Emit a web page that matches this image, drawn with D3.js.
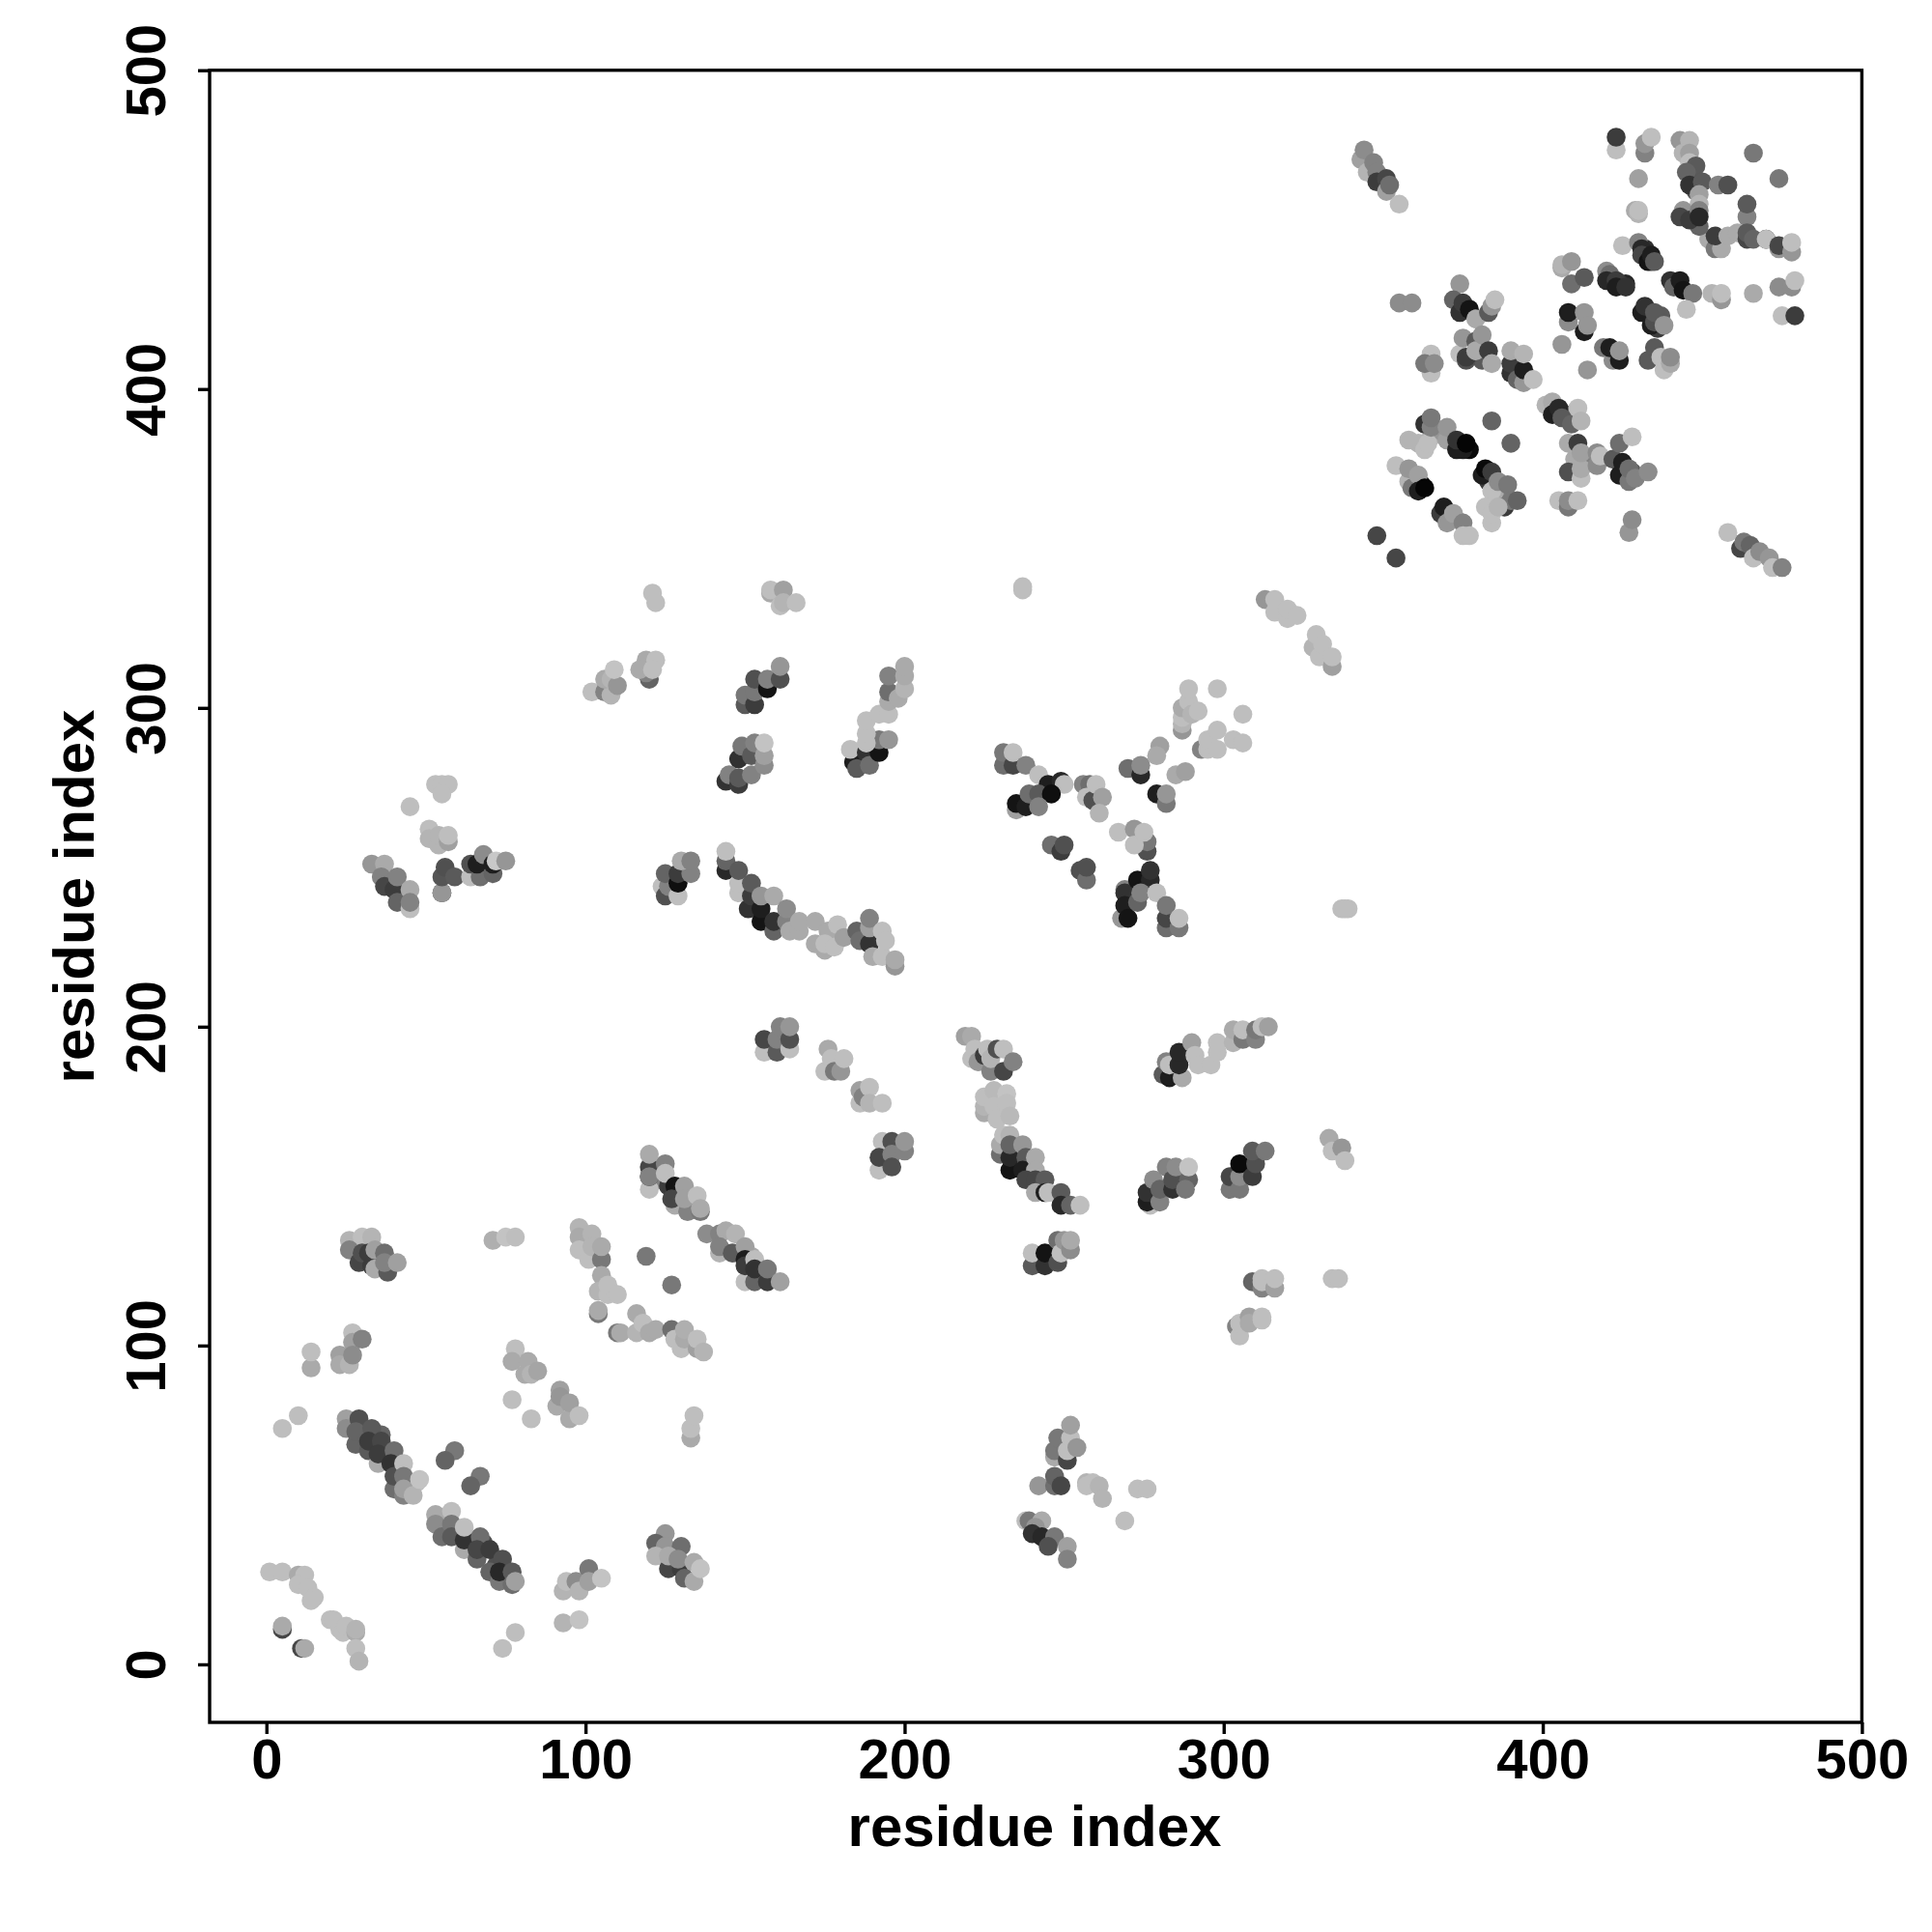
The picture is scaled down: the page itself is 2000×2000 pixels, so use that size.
<!DOCTYPE html>
<html><head><meta charset="utf-8">
<script src="https://cdn.jsdelivr.net/npm/d3@7"></script>
<style>html,body{margin:0;padding:0;background:#fff}</style></head>
<body><svg id="c" width="2000" height="2000"></svg>
<script>
// each contact: [residue x, residue y, grey level]
const denseContacts = [
[36,72,100],[31,72,90],[47,57,190],[45,55,170],[68,38,80],[72,31,80],[75,28,110],[123,152,130],[130,147,70],[126,150,60],[133,145,170],[148,129,130],[155,122,100],[152,128,170],[138,135,140],
[365,385,170],[368,387,150],[361,383,180],[377,381,10],[375,381,30],[362,370,10],[360,372,150],[383,371,60],[387,366,110],[386,368,170],[370,360,140],[373,359,170],[381,409,90],
[426,433,40],[424,433,60],[434,440,60],[432,444,50],[443,432,30],[437,423,90],[436,419,60],[427,373,60],[428,374,90],[395,404,130],[392,408,110],[404,393,60],[407,392,100],[410,378,170],[415,378,130],[452,447,170],[449,451,100],[448,462,80],[447,467,70],
[237,337,190],[337,237,190],[339,237,190]
];
const lowerLeft = [
[1,29,190],[5,29,190],[10,28,170],[12,28,190],[10,25,190],[13,24,190],[15,21,190],[14,20,190],[5,11,70],[5,12,170],[11,5,70],[12,5,170],
[20,14,190],[21,14,190],[23,11,190],[24,10,190],[25,12,190],[28,10,170],[28,11,180],[28,5,190],[29,1,180],
[26,133,180],[30,134,190],[33,134,180],[26,130,130],[29,126,70],[30,129,80],[32,129,60],[33,125,60],[34,130,160],[37,129,110],[34,124,170],[38,123,90],[37,126,130],[41,126,160],
[27,104,190],[27,101,160],[30,102,130],[23,97,160],[23,94,170],[26,94,180],[27,97,140],[14,93,170],[14,98,190],[10,78,190],[5,74,190],
[25,77,160],[25,74,140],[28,69,100],[29,77,80],[28,73,100],[33,74,90],[32,67,90],[32,70,60],[35,63,170],[36,70,70],[35,66,60],[40,67,110],[39,63,50],[40,55,110],[40,59,80],[43,63,190],[43,59,120],[43,53,130],[43,55,160],[46,53,180],[48,58,195],
[59,67,120],[56,64,100],[67,59,120],[64,56,100],
[53,47,170],[58,48,190],[53,44,140],[55,40,110],[58,44,120],[58,40,90],[62,36,170],[62,39,50],[62,43,190],[67,40,110],[66,33,100],[66,36,70],[70,36,60],[70,29,100],[74,33,80],[73,26,120],[73,29,40],[77,29,90],[77,25,110],[78,26,160],
[78,10,190],[74,5,190],[93,13,180],[98,14,195],[93,23,180],[94,26,190],[97,26,140],[98,23,180],[101,30,120],[101,26,160],[105,27,195],
[125,41,150],[122,38,100],[125,37,150],[122,34,180],[130,37,110],[126,30,70],[126,34,170],[130,30,60],[129,33,140],[131,27,100],[134,26,170],[134,32,170],[136,30,195],
[133,71,170],[133,74,190],[134,78,190],[78,99,190],[77,95,170],[82,95,170],[81,91,170],[83,91,180],[85,92,165],[77,83,190],[83,77,190],
[91,81,170],[92,86,160],[92,84,150],[95,77,170],[95,82,160],[98,78,190],[71,133,175],[75,134,195],[78,134,190],
[98,137,180],[98,134,170],[98,130,190],[101,127,190],[102,135,180],[102,131,180],[105,127,120],[105,131,170],[105,122,170],[104,110,120],[104,111,170],[104,117,180],[107,116,190],[107,119,190],[110,116,190],
[110,104,120],[111,104,170],[116,104,180],[116,110,170],[118,107,190],[120,104,170],[122,105,170],[127,105,110],[128,102,190],[130,99,190],[131,102,170],[131,105,175],[135,99,160],[135,102,190],[137,98,180],
[119,128,120],[127,119,120],
[120,149,190],[120,156,70],[120,153,50],[120,153,130],[120,160,170],[125,157,130],[125,154,190],[128,144,170],[128,150,20],[127,146,70],[132,142,130],[131,150,160],[131,146,160],[136,142,120],[135,147,190],[136,143,170],
[142,129,180],[142,135,130],[144,136,170],[142,131,130],[146,129,90],[147,135,180],[150,120,190],[150,131,160],[150,127,30],[150,125,60],[153,120,100],[153,127,190],[153,124,50],[157,120,60],[157,124,120],[161,120,160]
];
const lowerMiddle = [
[176,193,170],[175,186,190],[177,190,190],[178,186,120],[180,186,150],[181,190,190],
[186,176,190],[186,180,160],[187,178,130],[189,181,190],[189,176,180],[193,176,190],
[192,155,190],[193,164,190],[192,159,70],[196,164,80],[196,160,130],[196,156,80],[200,161,130],[200,164,150],
[219,197,160],[221,197,170],[221,190,190],[222,193,190],[223,189,150],[225,191,60],[226,193,190],[227,186,130],[227,190,180],[229,193,80],[231,193,190],[231,186,70],[234,189,130],
[225,173,170],[225,175,180],[225,178,190],[228,180,185],[228,175,190],[229,171,190],[232,179,195],[232,176,190],[233,172,185],[230,160,110],[230,163,170],[231,166,190],[233,166,180],
[233,155,20],[233,159,40],[233,163,100],[237,163,150],[238,159,90],[237,155,30],[241,159,170],[241,155,170],[238,152,70],[241,152,70],[244,152,90],[241,148,170],[244,148,30],[245,148,190],[249,148,90],[249,144,40],[252,144,100],[255,144,190],
[240,125,90],[240,129,190],[244,125,50],[244,129,20],[248,126,80],[248,133,110],[249,129,190],[250,133,150],[252,130,140],[252,133,170],
[277,144,190],[276,145,30],[276,148,50],[278,152,140],[280,145,130],[280,149,100],[282,156,130],[284,149,50],[284,152,80],[285,156,140],[289,152,100],[288,149,120],[289,156,195],
[302,149,120],[302,153,70],[305,149,120],[305,153,140],[305,157,10],[309,153,60],[310,157,80],[309,161,90],[313,161,120],
[333,165,170],[334,161,190],[337,162,150],[338,158,190],
[281,185,90],[283,184,30],[282,189,130],[283,188,190],[287,184,170],[286,188,40],[286,192,40],[290,195,160],[291,191,190],[292,188,190],[296,188,190],[298,192,190],[298,195,190],[303,195,180],[303,199,170],[306,196,120],[306,199,190],[310,196,130],[310,199,120],[312,200,190],[314,200,160],
[309,120,100],[312,118,130],[312,121,190],[312,120,190],[316,118,160],[316,121,190],[334,121,190],[336,121,190],
[304,106,130],[305,103,190],[305,107,190],[308,109,160],[308,107,170],[312,109,190],[312,108,190],
[247,65,170],[247,67,120],[248,71,120],[251,64,70],[251,67,190],[252,71,190],[252,75,160],[254,68,150],
[242,56,150],[247,56,110],[247,59,100],[249,56,70],[257,57,180],[259,57,190],[257,56,190],[261,56,180],[262,52,180],[273,55,190],[276,55,190],[269,45,190],
[238,45,190],[239,45,120],[243,45,170],[241,43,150],[240,41,50],[243,40,40],[247,40,120],[245,37,80],[251,37,160],[251,33,130]
];
const upperLeft = [
[33,251,150],[37,251,170],[36,247,130],[37,244,70],[40,243,60],[41,247,130],[41,239,100],[45,237,190],[45,243,170],[45,239,130],
[53,276,190],[55,276,190],[57,276,190],[55,273,190],[45,269,190],[51,262,190],[51,259,180],[54,257,180],[54,260,180],[57,258,160],[57,260,190],
[55,242,70],[55,242,150],[55,247,85],[56,250,80],[59,247,90],[64,247,190],[64,251,80],[67,247,110],[66,251,30],[68,254,140],[71,248,100],[71,251,30],[72,252,200],[75,252,150],
[102,305,190],[106,305,130],[108,304,180],[106,309,170],[108,309,180],[110,307,150],[109,312,195],
[120,309,100],[119,311,130],[119,315,170],[117,312,170],[122,315,190],[121,312,190],[121,336,190],[122,333,190],
[158,336,170],[158,337,190],[162,337,160],[161,332,190],[162,333,180],[166,333,190],
[150,301,90],[150,304,120],[153,301,60],[153,305,120],[153,309,80],[157,306,20],[157,309,130],[161,309,80],[161,313,150],
[144,277,50],[145,279,130],[148,276,60],[148,278,90],[148,284,50],[149,288,120],[152,279,130],[152,285,90],[153,289,130],[156,282,140],[156,285,160],[156,289,195],
[184,283,30],[185,281,90],[183,287,190],[188,286,50],[189,282,110],[192,286,20],[192,290,120],[195,290,150],[188,289,190],[188,292,190],[188,296,190],[192,298,190],[195,298,190],
[195,302,170],[195,305,110],[195,310,130],[198,303,170],[200,306,180],[200,310,170],[200,313,170],
[124,244,190],[125,241,80],[126,244,130],[125,248,100],[129,241,190],[129,245,15],[129,248,60],[133,248,130],[130,252,170],[133,252,130],
[144,249,40],[144,252,100],[144,255,190],[148,242,190],[148,245,190],[148,249,90],[151,237,50],[152,241,60],[152,245,90],[155,233,20],[155,237,30],[155,241,150],[159,230,100],[159,233,50],[159,241,170],[163,233,130],[163,237,140],
[164,230,170],[167,230,170],[167,233,170],[172,226,170],[172,233,170],[175,224,170],[176,230,170],[175,226,190],[178,225,190],[179,232,190],[181,228,160],
[185,230,100],[186,227,110],[189,226,50],[189,231,160],[189,234,130],[190,222,170],[193,222,190],[193,230,190],[194,227,190],[197,219,150],[197,221,170],
[156,192,190],[156,196,70],[160,192,90],[160,196,130],[161,200,130],[164,193,190],[164,196,80],[164,200,150]
];
const upperMiddle = [
[237,338,190],[313,334,150],[316,330,190],[316,334,190],[320,328,190],[320,331,190],[323,329,190],[328,319,180],[329,323,190],[330,316,190],[331,320,190],[334,313,160],[334,316,190],
[298,306,190],[306,298,190],[287,293,150],[287,295,180],[287,297,190],[287,300,170],[289,302,190],[289,306,190],[290,298,180],[292,299,190],
[293,287,130],[295,287,190],[295,290,190],[298,287,190],[298,293,190],[303,290,190],[306,289,190],[280,288,160],[279,285,170],
[270,281,110],[274,279,40],[274,282,140],[285,279,170],[288,280,160],[279,273,30],[282,270,120],[282,273,150],
[231,282,110],[231,286,120],[234,282,70],[234,286,190],[238,282,130],[242,279,190],[245,276,30],[249,277,40],[250,276,190],
[235,268,160],[235,270,20],[238,269,30],[239,273,110],[242,273,90],[246,273,15],[242,269,130],
[256,276,130],[258,276,110],[257,272,190],[259,271,80],[260,276,190],[262,272,160],[261,267,180],
[267,261,190],[272,262,150],[276,255,80],[276,258,120],[272,257,190],[275,261,190],
[246,257,110],[249,255,60],[250,257,80],[255,249,80],[257,246,110],[257,250,80],
[268,234,150],[269,243,130],[269,242,50],[269,238,30],[270,234,20],[273,246,20],[273,239,100],[277,246,40],[277,249,50],[274,242,130],[279,242,190],
[282,231,110],[282,234,70],[282,238,120],[286,231,120],[286,234,190],[338,237,190]
];
const upperRight = [
[343,472,160],[344,475,140],[345,468,180],[347,471,130],[348,468,130],[348,465,60],[351,466,70],[351,462,160],[352,464,110],[355,458,190],
[423,475,190],[423,479,60],[432,474,130],[432,477,150],[434,479,190],[430,466,160],
[443,478,150],[446,478,180],[444,474,180],[446,474,160],[446,471,190],[448,470,90],[445,468,100],[446,464,50],[450,465,90],[455,464,130],[458,464,80],[449,461,160],[449,458,180],
[466,474,120],[474,466,120],[464,454,130],[464,458,90],
[444,456,150],[443,454,70],[446,453,60],[449,456,130],[449,454,40],
[454,444,120],[456,444,170],[454,448,60],[458,448,170],[461,449,170],[464,447,70],[464,449,90],[466,447,100],[470,447,60],[470,447,190],[474,444,150],[474,445,70],[478,443,150],[478,446,190],
[429,456,170],[430,455,180],[430,456,190],[425,445,190],[430,446,130],[431,444,40],[431,442,70],[433,440,20],[434,442,30],[435,440,90],
[406,438,170],[406,439,180],[409,440,150],[409,433,110],[413,435,90],
[420,437,140],[421,436,110],[420,434,40],[423,434,60],[423,432,30],[426,432,50],
[440,434,50],[441,432,100],[443,434,30],[444,431,20],[447,430,120],
[453,430,180],[456,428,150],[456,430,190],[445,425,190],[466,430,170],[474,432,140],[478,432,140],[479,434,190],[475,423,190],[479,423,60],
[408,421,140],[408,424,30],[413,418,30],[413,424,150],[414,420,150],
[431,424,30],[432,426,50],[434,420,30],[435,421,80],[435,424,90],[438,420,150],
[406,414,150],[419,413,120],[422,409,140],[421,413,30],[424,409,30],[424,412,150],[414,406,150],
[433,409,90],[435,413,90],[437,410,190],[438,406,190],[440,408,170],[440,410,140],
[374,433,150],[355,427,140],[359,427,140],
[372,428,100],[374,424,50],[375,427,60],[377,425,20],[379,422,170],[383,424,90],[384,426,150],[385,428,190],
[374,411,190],[375,416,150],[376,409,80],[376,410,60],[379,415,90],[379,412,170],[381,417,150],[383,412,60],[384,408,170],
[365,405,190],[365,411,190],[363,408,120],[366,408,140],
[390,405,50],[390,408,60],[390,412,170],[392,403,100],[394,402,150],[394,406,30],[394,411,180],[397,403,190],
[401,395,180],[403,396,170],[403,392,30],[405,394,40],[406,391,90],[409,389,100],[411,394,190],[412,390,180],
[408,374,80],[408,383,170],[411,383,60],[412,372,190],[412,375,170],[412,380,160],[417,376,140],[417,380,140],[418,379,190],
[422,378,90],[424,373,30],[424,383,110],[425,377,30],[427,371,120],[427,375,110],[429,372,130],[428,385,190],[433,374,140],
[384,390,100],[390,383,100],
[358,384,180],[363,381,190],[364,383,190],[363,389,50],[365,388,130],[365,391,120],[370,384,160],[370,388,150],[373,381,30],[373,384,50],[376,383,5],
[354,376,190],[358,371,180],[358,375,150],[359,369,120],[361,373,160],[361,368,30],[363,369,5],
[381,373,30],[382,375,10],[384,374,60],[384,368,190],[386,371,140],[389,370,120],[388,363,60],[390,365,120],[392,365,100],
[382,363,190],[384,358,190],[384,361,190],[386,363,180],
[368,361,60],[369,363,30],[370,358,150],[372,361,160],[375,358,130],[375,354,190],[377,354,190],
[348,354,70],[354,347,70],[405,365,190],[408,363,120],[408,365,140],[411,365,190],[427,355,150],[428,359,140],
[458,355,190],[462,350,70],[463,352,120],[465,351,100],[466,347,190],[468,349,140],[471,347,150],[472,344,190],[475,344,130]
];
const tickValues = [0,100,200,300,400,500];
const xTitle = "residue index";
const yTitle = "residue index";

const pts = denseContacts.concat(lowerLeft, lowerMiddle, upperLeft, upperMiddle, upperRight);
const svg = d3.select("#c");
const L=217,R=1927.4,T=72.7,B=1783;
const x = d3.scaleLinear().domain([-17.8,500]).range([L,R]);
const y = d3.scaleLinear().domain([-18.2,500]).range([B,T]);
const font = "'Liberation Sans',Arial,sans-serif";

svg.append("g").selectAll("circle").data(pts).join("circle")
  .attr("cx",d=>x(d[0])).attr("cy",d=>y(d[1])).attr("r",9.8)
  .attr("fill",d=>d3.rgb(d[2],d[2],d[2]));

svg.append("rect").attr("x",L).attr("y",T).attr("width",R-L).attr("height",B-T)
  .attr("fill","none").attr("stroke","#000").attr("stroke-width",3.4);

const gx = svg.append("g").attr("transform",`translate(0,${B})`)
  .call(d3.axisBottom(x).tickValues(tickValues).tickSize(12).tickPadding(14));
const gy = svg.append("g").attr("transform",`translate(${L},0)`)
  .call(d3.axisLeft(y).tickValues(tickValues).tickSize(12));
[gx,gy].forEach(g=>{g.select(".domain").remove();
  g.selectAll(".tick line").attr("stroke","#000").attr("stroke-width",3.4);
  g.selectAll("text").attr("fill","#000").attr("font-family",font).attr("font-weight","bold").attr("font-size",58);});
gx.selectAll("text").attr("dy",null).attr("transform",null).attr("y",1841-B);
gy.selectAll("text").attr("x",null).attr("dy",null).attr("text-anchor","middle")
  .attr("transform",`translate(${171-L},0) rotate(-90)`);

svg.append("text").attr("x",1071).attr("y",1911).attr("text-anchor","middle")
  .attr("font-family",font).attr("font-weight","bold").attr("font-size",60).text(xTitle);
svg.append("text").attr("transform","translate(97,928) rotate(-90)").attr("text-anchor","middle")
  .attr("font-family",font).attr("font-weight","bold").attr("font-size",60).text(yTitle);
</script></body></html>
